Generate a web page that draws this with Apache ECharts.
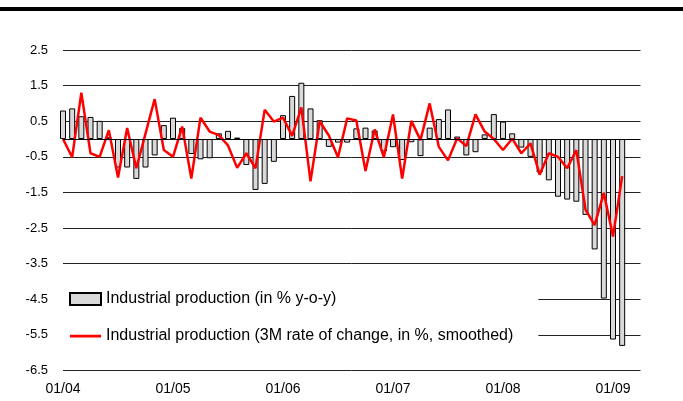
<!DOCTYPE html>
<html>
<head>
<meta charset="utf-8">
<script src="https://cdn.jsdelivr.net/npm/echarts@6/dist/echarts.min.js"></script>
<style>
  html, body { margin: 0; padding: 0; background: #fff; }
  #chart { width: 683px; height: 401px; }
</style>
</head>
<body>
<div id="chart"></div>
<script>
// months 01/04 .. 04/09 (last two have no data)
const years = ['04', '05', '06', '07', '08', '09'];
const months = ['01', '02', '03', '04', '05', '06', '07', '08', '09', '10', '11', '12'];
const categories = [];
years.forEach(y => months.forEach(m => categories.push(m + '/' + y)));
categories.length = 64;

const yTicks = [-6.5, -5.5, -4.5, -3.5, -2.5, -1.5, -0.5, 0.5, 1.5, 2.5];

// Industrial production (in % y-o-y)
const ipYoy = [
    0.80, 0.86, 0.64, 0.62, 0.51, 0.05, -0.80, -0.80, -1.12, -0.80, -0.46, 0.39,
    0.60, 0.31, -0.42, -0.57, -0.54, 0.16, 0.23, 0.04, -0.73, -1.43, -1.26, -0.64,
    0.67, 1.21, 1.58, 0.86, 0.53, -0.22, -0.10, -0.10, 0.30, 0.32, 0.24, -0.35,
    -0.23, -0.59, -0.09, -0.48, 0.32, 0.56, 0.83, 0.07, -0.46, -0.37, 0.13, 0.70,
    0.49, 0.16, -0.24, -0.50, -0.94, -1.16, -1.62, -1.70, -1.76, -2.13, -3.10, -4.48,
    -5.63, -5.81
];

// Industrial production (3M rate of change, in %, smoothed)
const ip3m = [
    0.00, -0.51, 1.30, -0.40, -0.50, 0.25, -1.08, 0.31, -0.82, 0.15, 1.12, -0.31,
    -0.50, 0.35, -1.11, 0.60, 0.21, 0.11, -0.18, -0.81, -0.40, -0.82, 0.82, 0.49,
    0.60, 0.09, 0.89, -1.19, 0.50, 0.10, -0.51, 0.58, 0.52, -0.90, 0.27, -0.51,
    0.69, -1.11, 0.51, -0.03, 1.00, -0.22, -0.60, 0.02, -0.20, 0.69, 0.21, 0.00,
    -0.31, 0.01, -0.40, -0.12, -1.00, -0.40, -0.50, -0.82, -0.31, -1.98, -2.42, -1.51,
    -2.74, -1.04
];

const fontFamily = '"Liberation Sans", Arial, sans-serif';
// thin line icon inside a 31x12 box (tiny corner subpaths fix the bounding box)
const lineIcon = 'path://M0,0 L0.01,0 L0.01,0.01 Z M0,4.8 L31,4.8 L31,7.4 L0,7.4 Z M31,12 L30.99,12 L30.99,11.99 Z';

const chart = echarts.init(document.getElementById('chart'), null, { renderer: 'canvas' });

const option = {
    animation: false,
    backgroundColor: '#fff',
    textStyle: { fontFamily: fontFamily, color: '#000' },
    graphic: [
        { type: 'rect', shape: { x: 0, y: 7, width: 683, height: 4 }, style: { fill: '#000' } }
    ],
    grid: { left: 63, right: 42.5, top: 50, bottom: 30.5 },
    legend: {
        orient: 'vertical',
        left: 63,
        top: 283,
        padding: [8, 25, 8, 6],
        itemGap: 21,
        itemWidth: 31,
        itemHeight: 12,
        backgroundColor: '#fff',
        textStyle: { fontFamily: fontFamily, fontSize: 16, color: '#000', lineHeight: 16 },
        data: [
            { name: 'Industrial production (in % y-o-y)', icon: 'rect' },
            {
                name: 'Industrial production (3M rate of change, in %, smoothed)',
                icon: lineIcon,
                itemStyle: { color: '#ff0000', borderWidth: 0 }
            }
        ]
    },
    xAxis: {
        type: 'category',
        data: categories,
        boundaryGap: false,
        axisLine: { show: false },
        axisTick: { show: false },
        splitLine: { show: false },
        axisLabel: {
            interval: 11,
            margin: 12,
            fontSize: 14,
            color: '#000',
            fontFamily: fontFamily
        }
    },
    yAxis: {
        type: 'value',
        min: yTicks[0],
        max: yTicks[yTicks.length - 1],
        interval: 1,
        axisLine: { show: false },
        axisTick: { show: false },
        axisLabel: {
            margin: 15,
            fontSize: 13,
            color: '#000',
            fontFamily: fontFamily,
            formatter: v => v.toFixed(1)
        },
        splitLine: { lineStyle: { color: '#222', width: 1 } }
    },
    series: [
        {
            name: 'Industrial production (in % y-o-y)',
            type: 'bar',
            data: ipYoy,
            barWidth: 6,
            itemStyle: { color: '#d9d9d9', borderColor: '#000', borderWidth: 1 },
            markLine: {
                silent: true,
                symbol: 'none',
                label: { show: false },
                lineStyle: { color: '#000', width: 1, type: 'solid' },
                data: [{ yAxis: 0 }]
            }
        },
        {
            name: 'Industrial production (3M rate of change, in %, smoothed)',
            type: 'line',
            data: ip3m,
            symbol: 'none',
            showSymbol: false,
            lineStyle: { color: '#ff0000', width: 2.5 },
            itemStyle: { color: '#ff0000' }
        }
    ]
};

chart.setOption(option);
</script>
</body>
</html>
